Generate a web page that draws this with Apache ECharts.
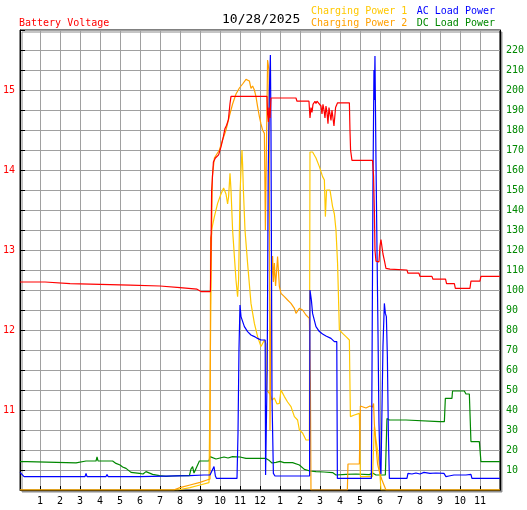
<!DOCTYPE html>
<html>
<head>
<meta charset="utf-8">
<script src="https://cdn.jsdelivr.net/npm/echarts@6/dist/echarts.min.js"></script>
<style>html,body{margin:0;padding:0;background:#fff}#c{width:527px;height:510px}</style>
</head>
<body>
<div id="c"></div>
<script>
// x values are hours since midnight of 10/28/2025
const hourTicks = [0,1,2,3,4,5,6,7,8,9,10,11,12,13,14,15,16,17,18,19,20,21,22,23,24];
const voltageTicks = [11, 12, 13, 14, 15];
const powerTicks = [10,20,30,40,50,60,70,80,90,100,110,120,130,140,150,160,170,180,190,200,210,220];

const batteryVoltage = [
  [0,12.60],[1.25,12.60],[1.3,12.585],[2.5,12.58],[2.55,12.57],[4.0,12.57],[4.05,12.56],[5.5,12.56],
  [5.55,12.55],[7.0,12.55],[7.05,12.53],[8.0,12.53],[8.05,12.52],[8.85,12.51],[8.9,12.49],[9.05,12.48],
  [9.52,12.48],[9.55,13.0],[9.58,13.73],[9.62,13.9],[9.67,14.10],[9.77,14.15],[9.93,14.19],[10.05,14.29],
  [10.17,14.42],[10.25,14.52],[10.33,14.56],[10.42,14.63],[10.5,14.83],[10.55,14.92],[12.35,14.92],
  [12.38,14.70],[12.42,14.60],[12.45,14.78],[12.5,14.65],[12.55,14.90],[13.8,14.90],[13.85,14.86],
  [14.45,14.86],[14.5,14.65],[14.55,14.78],[14.6,14.72],[14.65,14.82],[14.75,14.86],[14.8,14.83],
  [14.85,14.86],[14.9,14.84],[14.95,14.86],[15.05,14.80],[15.1,14.70],[15.15,14.82],[15.2,14.75],
  [15.25,14.65],[15.3,14.80],[15.35,14.72],[15.4,14.58],[15.45,14.78],[15.55,14.62],[15.6,14.75],
  [15.7,14.55],[15.78,14.78],[15.88,14.84],[16.47,14.84],[16.5,14.50],[16.53,14.25],[16.6,14.12],
  [17.63,14.12],[17.68,13.92],[17.72,13.5],[17.75,13.0],[17.8,12.86],[17.9,12.84],[17.95,12.85],
  [18.0,13.05],[18.05,13.13],[18.1,13.12],[18.15,12.95],[18.22,12.87],[18.3,12.77],[18.35,12.79],
  [18.4,12.78],[18.5,12.76],[19.35,12.75],[19.4,12.71],[19.95,12.71],[20.0,12.67],[20.6,12.67],
  [20.65,12.635],[21.28,12.635],[21.33,12.58],[21.72,12.58],[21.77,12.52],[22.5,12.52],[22.55,12.61],
  [23.0,12.61],[23.05,12.67],[24,12.67]
];

const chargingPower1 = [
  [0,0],[7.88,0],[8.5,1.2],[9.0,2.5],[9.45,3.7],[9.5,50],[9.55,50],[9.58,130],[9.72,136.7],[9.88,143.3],
  [10.05,148],[10.18,151],[10.3,148],[10.38,143],[10.43,146.7],[10.5,158.3],[10.55,150],[10.63,130],
  [10.72,116.7],[10.8,105],[10.88,96.7],[10.93,105],[11.0,148],[11.05,160],[11.1,170],[11.13,163],
  [11.17,150],[11.25,130],[11.38,113.3],[11.55,93.3],[11.72,83.3],[11.88,76.7],[12.05,71.7],[12.22,75],
  [12.3,73],[12.33,50],[12.5,48],[12.6,45],[12.72,46],[12.85,43],[12.97,43.3],[13.05,50],[13.22,46.7],
  [13.38,44],[13.55,41.7],[13.72,36.7],[13.88,35],[13.97,30],[14.13,28.5],[14.3,25],[14.47,25],
  [14.5,169],[14.63,169],[14.8,166],[14.97,161.7],[15.13,156.7],[15.22,155],[15.27,136.7],[15.33,150],
  [15.43,149],[15.5,150],[15.63,141.7],[15.72,138],[15.8,130],[15.88,113.3],[15.97,80],[16.13,78.3],
  [16.3,76.7],[16.47,75],[16.52,36.7],[16.72,37.5],[16.97,38.3],[17.02,6.7],[17.63,6.7],[17.72,31.7],
  [17.8,25],[17.88,20],[17.97,12],[18.05,0],[24,0]
];

const chargingPower2 = [
  [0,0],[7.68,0],[8.0,1.2],[8.5,2.5],[9.0,3.8],[9.35,5],[9.5,5.5],[9.53,126],[9.58,128],[9.62,157],
  [9.72,166],[9.8,167],[9.97,170],[10.13,175],[10.3,180],[10.47,187],[10.63,193],[10.8,198],[10.97,201],
  [11.13,203],[11.3,205.3],[11.38,206.2],[11.47,204.5],[11.55,200.8],[11.63,202],[11.72,200],[11.8,196.7],
  [11.88,191.7],[11.97,186.7],[12.05,183],[12.13,180],[12.22,178.3],[12.27,130],[12.33,130],[12.38,215],
  [12.45,210],[12.5,30],[12.57,103.5],[12.63,117],[12.67,104],[12.72,113.5],[12.78,102],[12.88,116.7],
  [12.97,101.7],[13.05,98.3],[13.22,96.7],[13.38,95],[13.55,93.3],[13.72,90.8],[13.8,88.3],[13.97,90.8],
  [14.13,90],[14.3,87.5],[14.47,85.8],[14.52,53.3],[14.55,0],[16.37,0],[16.4,13],[16.97,13],[17.02,42],
  [17.3,41],[17.5,42],[17.63,41.5],[17.68,43.3],[17.72,33],[17.8,22],[17.88,13],[18.0,8],[18.1,5],
  [18.22,2],[18.3,0],[24,0]
];

const acLoadPower = [
  [0,8.8],[0.1,7.8],[0.2,6.7],[3.25,6.7],[3.3,8.3],[3.35,6.7],[4.3,6.7],[4.35,7.8],[4.4,6.7],[6.0,6.7],
  [6.05,7.2],[8.5,7.2],[9.2,7.5],[9.5,7.5],[9.55,8.5],[9.7,11.7],[9.77,7],[9.83,5.8],[10.85,5.8],
  [10.9,28.3],[10.95,70.8],[11.0,92.5],[11.05,86.7],[11.22,81.7],[11.38,79.2],[11.55,77.5],[11.72,76.7],
  [11.88,75.8],[12.05,75],[12.26,75],[12.28,7.5],[12.33,7.5],[12.36,60],[12.41,156.7],[12.47,200],
  [12.52,217.5],[12.55,180],[12.6,46.7],[12.67,8.3],[12.75,7],[14.48,7],[14.5,100],[14.57,95],
  [14.63,88.3],[14.8,81.7],[14.97,79.2],[15.13,78],[15.3,77],[15.55,75.8],[15.72,74.2],[15.84,74.2],
  [15.87,5.8],[17.57,5.8],[17.6,56],[17.65,153.5],[17.7,210],[17.72,195],[17.75,217],[17.8,165],
  [17.85,121.7],[17.9,80],[17.95,33.5],[18.0,13.3],[18.05,8],[18.12,8],[18.15,71.7],[18.22,93.3],
  [18.27,88.3],[18.32,86.7],[18.37,66.7],[18.42,28.3],[18.47,5.8],[19.35,5.8],[19.4,8.3],[19.6,8.0],
  [19.8,8.5],[20.0,8.0],[20.2,8.8],[20.5,8.3],[20.8,8.5],[21.2,8.3],[21.3,6.7],[21.45,7.0],[21.55,8.0],
  [21.7,7.5],[22.3,7.5],[22.55,7.8],[22.6,5.8],[24,5.8]
];

const dcLoadPower = [
  [0,14.2],[0.35,14.2],[0.4,13.5],[2.8,13.6],[2.85,14.5],[3.3,14.5],[3.35,15.5],[3.4,14.5],[3.8,14.5],
  [3.85,16.5],[3.9,14.6],[4.0,14.8],[4.63,14.5],[4.8,13.3],[5.0,12.5],[5.13,11.5],[5.3,10.8],[5.55,8.8],
  [5.63,8.5],[5.97,8.3],[6.05,9.0],[6.15,8.0],[6.3,9.2],[6.4,8.2],[6.63,7.8],[6.97,7.2],[7.3,6.8],
  [7.6,7.0],[8.0,7.2],[8.47,7.2],[8.55,10.5],[8.63,11.7],[8.7,8.5],[8.8,9.0],[8.97,14.5],[9.45,14.5],
  [9.5,16.7],[9.8,15.5],[10.2,16.5],[10.4,16.0],[10.63,16.7],[11.0,16.5],[11.3,15.8],[12.3,15.8],
  [12.47,14.7],[12.6,13.5],[12.8,13.8],[12.9,12.8],[13.0,14.3],[13.2,13.7],[13.63,13.7],[13.97,12.5],
  [14.22,10.3],[14.3,9.7],[14.5,9.5],[14.8,9.2],[15.2,9.0],[15.63,8.7],[15.8,7.5],[16.3,7.8],[16.8,8.0],
  [17.47,7.7],[17.63,8.5],[17.8,7.5],[18.27,7.5],[18.35,35.8],[18.47,35],[19.3,35],[19.35,34.2],
  [20.97,34.2],[21.05,35],[21.22,34.2],[21.27,45.8],[21.6,45.8],[21.63,49.5],[22.22,49.5],[22.3,48],
  [22.47,48],[22.55,24.2],[22.97,24.2],[23.05,14.2],[24,14.2]
];

const dateLabel = '10/28/2025';
const C = {red:'#ff0000', gold:'#ffc800', orange:'#ffa000', blue:'#0000ff', green:'#008800'};
const FONT = 'DejaVu Sans Mono';

function hourLabel(v){
  if (v <= 0 || v >= 24) return '';
  const h = v % 12;
  return String(h === 0 ? 12 : h);
}

const chart = echarts.init(document.getElementById('c'), null, {renderer:'canvas'});
function lineSeries(name, data, color, yIdx){
  return {name, type:'line', data, yAxisIndex:yIdx, showSymbol:false, symbol:'none',
    lineStyle:{color, width:1.2}, itemStyle:{color}, animation:false};
}
const titleStyle = (c, size) => ({color:c, fontFamily:FONT, fontSize:size, fontWeight:'normal', lineHeight:size+2});
chart.setOption({
  animation:false,
  backgroundColor:'#ffffff',
  title:[
    {text:dateLabel, left:222, top:12, padding:0, textStyle:titleStyle('#000',13)},
    {text:'Battery Voltage', left:19, top:17, padding:0, textStyle:titleStyle(C.red,10)},
    {text:'Charging Power 1', left:311, top:5, padding:0, textStyle:titleStyle(C.gold,10)},
    {text:'Charging Power 2', left:311, top:17, padding:0, textStyle:titleStyle(C.orange,10)},
    {text:'AC Load Power', right:32, top:5, padding:0, textStyle:titleStyle(C.blue,10)},
    {text:'DC Load Power', right:32, top:17, padding:0, textStyle:titleStyle(C.green,10)}
  ],
  grid:{left:20, top:30, width:480, height:460, show:true, borderColor:'#000', borderWidth:1,
    backgroundColor:'#fff', shadowColor:'#8c8c8c', shadowOffsetX:2, shadowOffsetY:2, shadowBlur:0},
  xAxis:{type:'value', min:hourTicks[0], max:hourTicks[hourTicks.length-1], interval:1,
    axisLine:{show:true, lineStyle:{color:'#000'}},
    axisTick:{show:true, inside:true, length:4, lineStyle:{color:'#000'}},
    axisLabel:{color:'#000', fontFamily:FONT, fontSize:10, margin:6, formatter:hourLabel, showMinLabel:false, showMaxLabel:false},
    splitLine:{show:true, lineStyle:{color:'#a0a0a0', width:1}}},
  yAxis:[
    {type:'value', min:10, max:15.75, interval:0.25, position:'left',
      axisLine:{show:true, lineStyle:{color:'#000'}},
      axisTick:{show:true, inside:true, length:5, lineStyle:{color:'#000'}},
      axisLabel:{color:C.red, fontFamily:FONT, fontSize:10, margin:5,
        formatter:v => voltageTicks.indexOf(v) >= 0 ? String(v) : ''},
      splitLine:{show:true, lineStyle:{color:'#a0a0a0', width:1}}},
    {type:'value', min:0, max:230, interval:10, position:'right',
      axisLine:{show:true, lineStyle:{color:'#000'}},
      axisTick:{show:false},
      axisLabel:{color:C.green, fontFamily:FONT, fontSize:10, margin:6,
        formatter:v => powerTicks.indexOf(v) >= 0 ? String(v) : ''},
      splitLine:{show:false}}
  ],
  series:[
    lineSeries('DC Load Power', dcLoadPower, C.green, 1),
    lineSeries('Charging Power 1', chargingPower1, C.gold, 1),
    lineSeries('Charging Power 2', chargingPower2, C.orange, 1),
    lineSeries('AC Load Power', acLoadPower, C.blue, 1),
    lineSeries('Battery Voltage', batteryVoltage, C.red, 0)
  ]
});
</script>
</body>
</html>
